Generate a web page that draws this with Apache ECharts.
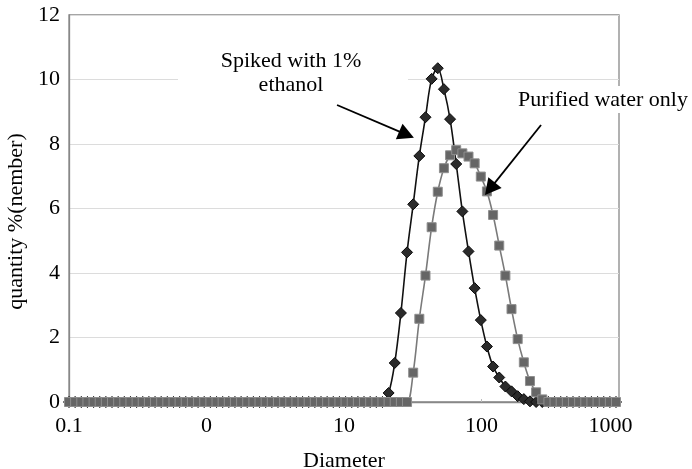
<!DOCTYPE html>
<html>
<head>
<meta charset="utf-8">
<script src="https://cdn.jsdelivr.net/npm/echarts@6/dist/echarts.min.js"></script>
<style>html,body{margin:0;padding:0;background:#fff}#c{width:692px;height:469px}</style>
</head>
<body>
<div id="c"></div>
<script>
const diameters = [
  0.1,0.1108,0.1229,0.1362,0.151,0.1673,0.1854,0.2055,0.2278,0.2525,
  0.2799,0.3102,0.3438,0.3811,0.4224,0.4682,0.5189,0.5752,0.6375,0.7066,
  0.7834,0.8684,0.9625,1.067,1.183,1.311,1.453,1.61,1.785,1.978,
  2.193,2.431,2.694,2.986,3.31,3.669,4.067,4.507,4.996,5.538,
  6.138,6.804,7.542,8.359,9.265,10.27,11.38,12.62,13.98,15.5,
  17.18,19.04,21.11,23.39,25.93,28.74,31.86,35.31,39.14,43.38,
  48.08,53.3,59.08,65.48,72.58,80.45,89.17,98.83,109.5,121.4,
  134.6,149.2,165.3,183.3,203.2,225.2,249.6,276.7,306.7,339.9,
  376.7,417.6,462.8,513,568.6,630.2,698.5,774.3,858.2,951.2
];
const ethanol = [
  0,0,0,0,0,0,0,0,0,0,
  0,0,0,0,0,0,0,0,0,0,
  0,0,0,0,0,0,0,0,0,0,
  0,0,0,0,0,0,0,0,0,0,
  0,0,0,0,0,0,0,0,0,0,
  0,0,0.28,1.21,2.76,4.64,6.13,7.63,8.83,10.02,
  10.35,9.70,8.77,7.38,5.91,4.67,3.53,2.54,1.72,1.10,
  0.76,0.48,0.33,0.18,0.09,0.02,0,0,0,0,
  0,0,0,0,0,0,0,0,0,0
];
const water = [
  0,0,0,0,0,0,0,0,0,0,
  0,0,0,0,0,0,0,0,0,0,
  0,0,0,0,0,0,0,0,0,0,
  0,0,0,0,0,0,0,0,0,0,
  0,0,0,0,0,0,0,0,0,0,
  0,0,0,0,0,0,0.91,2.58,3.92,5.42,
  6.52,7.25,7.65,7.81,7.71,7.61,7.40,6.99,6.53,5.80,
  4.85,3.92,2.88,1.95,1.23,0.65,0.30,0.08,0,0,
  0,0,0,0,0,0,0,0,0,0
];
const xTickValues = [0.1, 1, 10, 100, 1000];
const xTickLabels = ['0.1', '0', '10', '100', '1000'];
const arrowEthanol = [[8.9, 9.21], [28.5, 8.29]];
const arrowWater = [[271, 8.59], [115.3, 6.61]];
const labelEthanol = 'Spiked with 1%\nethanol';
const labelWater = 'Purified water only';

const FONT = '"Liberation Serif", "Times New Roman", serif';
const chart = echarts.init(document.getElementById('c'), null, {renderer: 'canvas'});

function pairs(ys) { return diameters.map((d, i) => [d, ys[i]]); }

chart.setOption({
  animation: false,
  backgroundColor: '#fff',
  grid: {left: 69, right: 73, top: 15, bottom: 67, containLabel: false, outerBoundsMode: 'none',
         show: true, borderColor: '#888', borderWidth: 1.3, backgroundColor: 'transparent'},
  xAxis: {
    type: 'log', logBase: 10, min: 0.1, max: 1000,
    name: 'Diameter', nameLocation: 'middle', nameGap: 48,
    nameTextStyle: {fontFamily: FONT, fontSize: 22, color: '#000'},
    axisLine: {lineStyle: {color: '#888', width: 1.3}},
    axisTick: {show: true, inside: true, length: 3, lineStyle: {color: '#bbb'}},
    minorTick: {show: false},
    splitLine: {show: false},
    axisLabel: {
      fontFamily: FONT, fontSize: 22, color: '#000', margin: 13,
      formatter: function (v) {
        const idx = xTickValues.findIndex(t => Math.abs(Math.log10(t) - Math.log10(v)) < 1e-6);
        if (idx < 0) return '';
        if (idx === xTickValues.length - 1) return '{last|' + xTickLabels[idx] + '}';
        return xTickLabels[idx];
      },
      rich: {last: {fontFamily: FONT, fontSize: 22, color: '#000', padding: [0, 17, 0, 0]}}
    }
  },
  yAxis: {
    type: 'value', min: 0, max: 12, interval: 2,
    name: 'quantity %(nember)', nameLocation: 'middle', nameGap: 40,
    nameTextStyle: {fontFamily: FONT, fontSize: 22, color: '#000', padding: [0, 26, 0, 0]},
    axisLine: {show: true, lineStyle: {color: '#888', width: 1.3}},
    axisTick: {show: false},
    splitLine: {lineStyle: {color: '#dcdcdc', width: 1}},
    axisLabel: {fontFamily: FONT, fontSize: 22, color: '#000', margin: 9}
  },
  series: [
    {
      name: 'ethanol', type: 'line', data: pairs(ethanol), smooth: 0.35,
      symbol: 'diamond', symbolSize: 11,
      lineStyle: {color: '#111', width: 1.6},
      itemStyle: {color: '#2b2b2b', borderColor: '#0a0a0a', borderWidth: 1},
      z: 3,
      markLine: {
        silent: true, animation: false,
        symbol: ['none', 'triangle'], symbolSize: [17, 16],
        label: {show: false},
        lineStyle: {color: '#000', width: 1.8, type: 'solid'},
        data: [
          [{coord: arrowEthanol[0]}, {coord: arrowEthanol[1]}],
          [{coord: arrowWater[0]}, {coord: arrowWater[1]}]
        ]
      }
    },
    {
      name: 'water', type: 'line', data: pairs(water), smooth: 0.35,
      symbol: 'rect', symbolSize: 9,
      lineStyle: {color: '#7a7a7a', width: 1.6},
      itemStyle: {color: '#666', borderColor: '#8e8e8e', borderWidth: 1},
      z: 4
    }
  ],
  graphic: [
    {type: 'rect', z: 50, shape: {x: 178, y: 42, width: 230, height: 58}, style: {fill: '#fff'}},
    {type: 'text', z: 51, x: 291, y: 73, style: {text: labelEthanol, fontFamily: FONT, fontSize: 22, lineHeight: 24, align: 'center', verticalAlign: 'middle', fill: '#000'}},
    {type: 'rect', z: 50, shape: {x: 510, y: 86, width: 182, height: 27}, style: {fill: '#fff'}},
    {type: 'text', z: 51, x: 603, y: 100, style: {text: labelWater, fontFamily: FONT, fontSize: 22, align: 'center', verticalAlign: 'middle', fill: '#000'}}
  ]
});
</script>
</body>
</html>
